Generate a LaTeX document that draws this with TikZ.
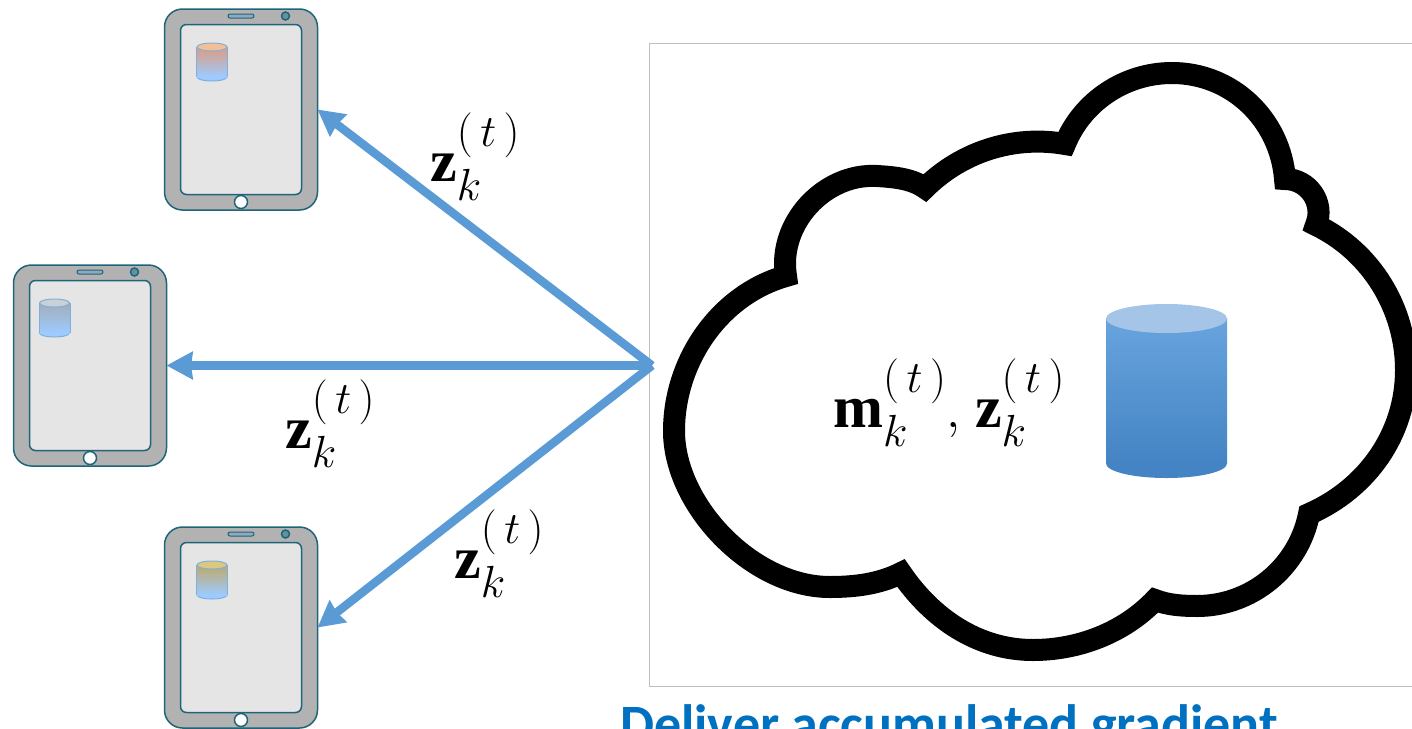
\documentclass[tikz,border=0pt]{standalone}
\usepackage{fix-cm}
\usepackage{amsmath}
\usepackage{fontspec}
\usepackage{xcolor}
\usepackage{tikz}
\usetikzlibrary{arrows.meta, positioning, shapes.geometric, calc}
\newfontfamily\vecfont{Liberation Serif}
\newfontfamily\capfont{Carlito}
\DeclareMathSizes{52}{52}{45}{34}
\newcommand{\bvec}[1]{\mbox{\rule[-17pt]{0pt}{69pt}\fontsize{60}{60}\vecfont\bfseries #1}}
\newcommand{\stepped}{_{k}^{(\mkern3mu t\mkern3mu)}}
% tablet: suffix, position, store offset, body top colour, cap colour
\newcommand{\tablet}[5]{
  \node[bezel] (tablet#1) at (#2) {};
  \node[panel] (screen#1) at (tablet#1) {};
  \node[speaker, yshift=93.5pt] (speaker#1) at (tablet#1) {};
  \node[lens, xshift=44.5pt, yshift=93.5pt] (lens#1) at (tablet#1) {};
  \node[homekey, yshift=-92.5pt] (home#1) at (tablet#1) {};
  \node[tinybase, xshift=#3, yshift=32.5pt] (base#1) at (tablet#1) {};
  \node[tinybody, top color=#4, xshift=#3, yshift=47.5pt] (body#1) at (tablet#1) {};
  \node[tinycap, fill=#5, xshift=#3, yshift=62.5pt] (cap#1) at (tablet#1) {};
  \draw[dbline, line width=1pt] (cap#1.west) -- (base#1.west) (cap#1.east) -- (base#1.east);
}
\definecolor{edgeteal}{HTML}{1F6478}
\definecolor{bezelgray}{HTML}{B2B2B2}
\definecolor{screengray}{HTML}{E5E5E5}
\definecolor{pushblue}{HTML}{5B9BD5}
\definecolor{dbline}{HTML}{7FB0DC}
\definecolor{dblow}{HTML}{9DCBFF}
\definecolor{capblue}{HTML}{0070C0}
\definecolor{storetop}{HTML}{68A4DE}
\definecolor{storelow}{HTML}{4484C4}
\definecolor{storecap}{HTML}{A5C5E8}
\definecolor{peachtop}{HTML}{DE9B7F}
\definecolor{peachcap}{HTML}{F4BF96}
\definecolor{slatetop}{HTML}{A3ADB8}
\definecolor{slatecap}{HTML}{C8D0D8}
\definecolor{sandtop}{HTML}{BFA868}
\definecolor{sandcap}{HTML}{DEC880}

\begin{document}
\begin{tikzpicture}[
  x=1pt, y=-1pt,
  bezel/.style={rectangle, draw=edgeteal, fill=bezelgray, line width=1.5pt, rounded corners=18pt, minimum width=153pt, minimum height=201pt, inner sep=0pt, outer sep=0pt},
  panel/.style={rectangle, draw=edgeteal, fill=screengray, line width=1.5pt, rounded corners=6pt, minimum width=121pt, minimum height=170pt, inner sep=0pt},
  speaker/.style={rectangle, draw=edgeteal, fill=bezelgray!60!pushblue, line width=1pt, rounded corners=2pt, minimum width=26pt, minimum height=4pt, inner sep=0pt},
  lens/.style={circle, draw=edgeteal, fill=edgeteal!70!white, line width=1.5pt, minimum size=8pt, inner sep=0pt},
  homekey/.style={circle, draw=edgeteal, fill=white, line width=1.5pt, minimum size=13pt, inner sep=0pt},
  tinybase/.style={ellipse, draw=dbline, fill=dblow, line width=1pt, minimum width=30pt, minimum height=8pt, inner sep=0pt},
  tinybody/.style={rectangle, minimum width=30pt, minimum height=30pt, inner sep=0pt, bottom color=dblow},
  tinycap/.style={ellipse, draw=dbline, line width=1pt, minimum width=30pt, minimum height=8pt, inner sep=0pt},
  pushline/.style={-{Stealth[length=26pt, width=27pt, inset=1.5pt]}, draw=pushblue, line width=8.5pt},
  veclabel/.style={anchor=base west, inner sep=0pt, font=\fontsize{52}{56}\selectfont},
  cloudline/.style={draw=black, line width=22pt, line join=miter, miter limit=10}
]
\useasboundingbox (0,0) rectangle (1412,728);
\clip (0,0) rectangle (1412,728);

% server frame and cloud
\path[draw=gray!50, line width=0.8pt] (649.5,43) rectangle (1430,686);
\draw[cloudline] (786,276)
  .. controls (777.5,223.8) and (824.2,172.9) .. (877,176)
  .. controls (893.3,177) and (911.7,178.5) .. (925,188)
  .. controls (961.7,151.6) and (1014.1,135) .. (1065,144)
  .. controls (1082.7,100.9) and (1125.4,73) .. (1172,73)
  .. controls (1231.9,73) and (1280.2,119.3) .. (1285,179)
  .. controls (1308.6,179) and (1325.1,203.2) .. (1316,225)
  .. controls (1371.2,251.7) and (1406,308.7) .. (1406,370)
  .. controls (1406,433.6) and (1367.3,488.5) .. (1309,514)
  .. controls (1298.5,567.4) and (1251.4,606) .. (1197,606)
  .. controls (1182.9,606) and (1168.1,605.1) .. (1155,600)
  .. controls (1123.6,632.8) and (1078.4,650) .. (1033,650)
  .. controls (977.9,650) and (932,618.5) .. (901,573)
  .. controls (879.1,584.1) and (854.5,587) .. (830,587)
  .. controls (752,587) and (674,505) .. (674,431)
  .. controls (674,361.4) and (719,295) .. (786,276) -- cycle;

% server store
\node[ellipse, fill=storelow, minimum width=121pt, minimum height=29pt, inner sep=0pt] (serverbase) at (1166.5,463.5) {};
\node[rectangle, minimum width=121pt, minimum height=145pt, inner sep=0pt, top color=storetop, bottom color=storelow] (serverdb) at (1166.5,391) {};
\node[ellipse, fill=storecap, minimum width=121pt, minimum height=29pt, inner sep=0pt] (servercap) at (1166.5,318.5) {};
\node[veclabel] (serverlabel) at (833,427) {$\bvec{m}\stepped\mkern0mu,\mkern2mu\bvec{z}\stepped$};

% tablets
\tablet{A}{241,109.5}{-29pt}{peachtop}{peachcap}
\tablet{B}{90,365.5}{-35.5pt}{slatetop}{slatecap}
\tablet{C}{241,627.5}{-29pt}{sandtop}{sandcap}

% downlink arrows
\coordinate (hub) at (652,365.5);
\draw[pushline] (hub) -- (tabletA.east);
\draw[pushline] (hub) -- (tabletB.east);
\draw[pushline] (hub) -- (tabletC.east);
\node[veclabel] (labelA) at (430,181) {$\bvec{z}\stepped$};
\node[veclabel] (labelB) at (285,448) {$\bvec{z}\stepped$};
\node[veclabel] (labelC) at (454,578) {$\bvec{z}\stepped$};

\node[anchor=base west, inner sep=0pt, text=capblue, font=\fontsize{54}{58}\selectfont\capfont\bfseries] (caption) at (620,742) {Deliver accumulated gradient};
\end{tikzpicture}
\end{document}
